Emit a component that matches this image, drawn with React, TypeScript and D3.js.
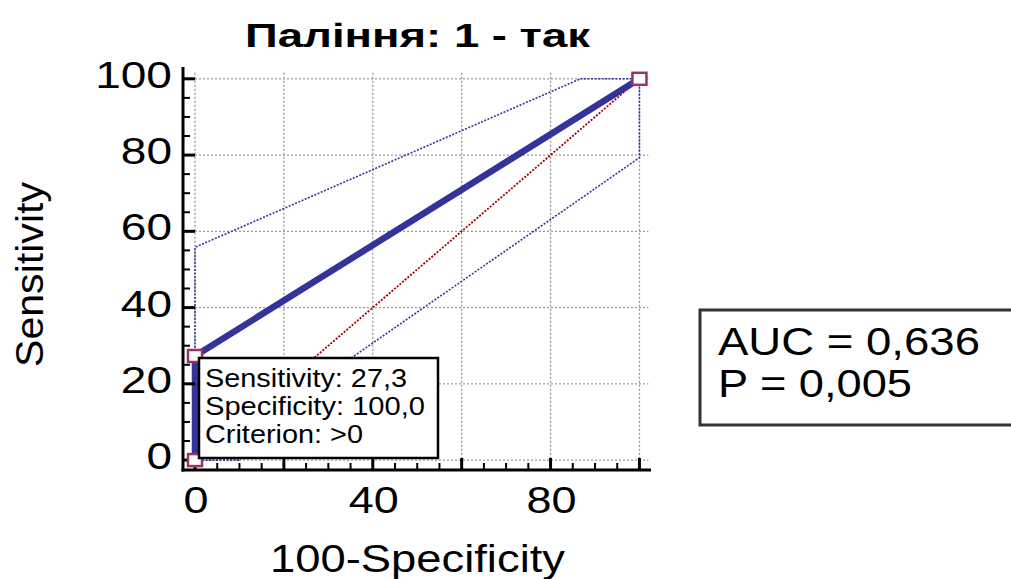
import React from "react";
import * as d3 from "d3";

// ROC curve: (100 - specificity, sensitivity) pairs
const rocX = [0, 0, 100];
const rocY = [0, 27.3, 100];

// 95% confidence bounds around the curve
const upperX = [0, 0, 86.7, 100];
const upperY = [0, 55.8, 100, 100];
const lowerX = [0, 10, 30, 100, 100];
const lowerY = [0, 0, 22.6, 79.3, 100];

// Reference (chance) diagonal
const diagX = [0, 100];
const diagY = [0, 100];

const gridValues = [0, 20, 40, 60, 80, 100];
const yTickLabels = [0, 20, 40, 60, 80, 100];
const xTickLabels = [0, 40, 80];
const minorStep = 5;

const title = "Паління: 1 - так";
const xTitle = "100-Specificity";
const yTitle = "Sensitivity";
const tipLines = ["Sensitivity: 27,3", "Specificity: 100,0", "Criterion: >0"];
const statLines = ["AUC = 0,636", "P = 0,005"];

const FONT = "'Liberation Sans', Arial, sans-serif";
const BLUE = "#333399";
const DARKRED = "#990000";
const MARKER = "#993366";

export default function App() {
  const x = d3.scaleLinear().domain([-2.7, 102.6]).range([183, 651]);
  const y = d3.scaleLinear().domain([-2.6, 103.1]).range([470, 67]);

  const line = (xs: number[], ys: number[]) =>
    d3
      .line<number>()
      .x((_, i) => x(xs[i]))
      .y((_, i) => y(ys[i]))(xs) as string;

  const minorTicks = d3.range(0, 100 + 0.001, minorStep);
  const markerIdx = [0, 1, 2];

  return (
    <svg
      width={1011}
      height={579}
      style={{ position: "absolute", left: 0, top: 0, background: "#fff" }}
      fontFamily={FONT}
    >
      {/* title */}
      <text x={417.5} y={46.5} fontSize={34} fontWeight="bold" textAnchor="middle" textLength={345} lengthAdjust="spacingAndGlyphs">
        {title}
      </text>

      {/* grid */}
      <g stroke="#999" strokeWidth={1.3} strokeDasharray="2,2" fill="none">
        {gridValues.map((v) => (
          <line key={"gv" + v} x1={x(v)} x2={x(v)} y1={y(101.6)} y2={y(-2.6)} />
        ))}
        {gridValues.map((v) => (
          <line key={"gh" + v} x1={x(0)} x2={x(102)} y1={y(v)} y2={y(v)} />
        ))}
      </g>

      {/* chance diagonal */}
      <path d={line(diagX, diagY)} fill="none" stroke={DARKRED} strokeWidth={1.8} strokeDasharray="2,1.5" />

      {/* confidence bounds */}
      <path d={line(upperX, upperY)} fill="none" stroke={BLUE} strokeWidth={1.6} strokeDasharray="2,1.5" />
      <path d={line(lowerX, lowerY)} fill="none" stroke={BLUE} strokeWidth={1.6} strokeDasharray="2,1.5" />

      {/* ROC curve */}
      <path d={line(rocX, rocY)} fill="none" stroke={BLUE} strokeWidth={6.5} strokeLinejoin="round" />

      {/* axes */}
      <g stroke="#000">
        <line x1={x(-2.7)} x2={x(-2.7)} y1={y(103.1)} y2={y(-2.6) + 1.5} strokeWidth={3} />
        <line x1={x(-2.7) - 1.5} x2={x(102.6)} y1={y(-2.6)} y2={y(-2.6)} strokeWidth={3} />
        {minorTicks.map((v) => {
          const major = v % 20 === 0;
          const len = major ? 12 : 7;
          return (
            <g key={"t" + v} strokeWidth={major ? 3 : 2}>
              <line x1={x(-2.7)} x2={x(-2.7) + len} y1={y(v)} y2={y(v)} />
              <line x1={x(v)} x2={x(v)} y1={y(-2.6)} y2={y(-2.6) - len} />
            </g>
          );
        })}
      </g>

      {/* tick labels */}
      <g fontSize={36} fill="#000">
        {yTickLabels.map((v) => {
          const s = String(v);
          return (
            <text key={"yl" + v} x={172} y={y(v) + 9} textAnchor="end" textLength={s.length * 25.6} lengthAdjust="spacingAndGlyphs">
              {s}
            </text>
          );
        })}
        {xTickLabels.map((v) => {
          const s = String(v);
          return (
            <text key={"xl" + v} x={x(v) + 1} y={513} textAnchor="middle" textLength={s.length * 25} lengthAdjust="spacingAndGlyphs">
              {s}
            </text>
          );
        })}
      </g>

      {/* axis titles */}
      <text x={417.5} y={572} fontSize={39} textAnchor="middle" textLength={295} lengthAdjust="spacingAndGlyphs">
        {xTitle}
      </text>
      <text
        transform={`translate(43, 274.5) rotate(-90)`}
        fontSize={39}
        textAnchor="middle"
        textLength={185}
        lengthAdjust="spacingAndGlyphs"
      >
        {yTitle}
      </text>

      {/* criterion markers */}
      {markerIdx.map((i) => (
        <rect
          key={"m" + i}
          x={x(rocX[i]) - 7}
          y={y(rocY[i]) - 6}
          width={14}
          height={12}
          fill="#fff"
          stroke={MARKER}
          strokeWidth={2.5}
        />
      ))}

      {/* selected criterion info box */}
      <rect x={199} y={358} width={239} height={100} fill="#fff" stroke="#000" strokeWidth={2.5} />
      <g fontSize={25} fill="#000">
        {tipLines.map((t, i) => (
          <text key={"tip" + i} x={205} y={387 + i * 28} textLength={[202, 220, 158][i]} lengthAdjust="spacingAndGlyphs">
            {t}
          </text>
        ))}
      </g>

      {/* AUC summary box */}
      <rect x={700} y={310} width={320} height={115} fill="#fff" stroke="#333" strokeWidth={3} />
      <g fontSize={39} fill="#000">
        {statLines.map((t, i) => (
          <text key={"st" + i} x={718} y={355 + i * 42} textLength={[262, 194][i]} lengthAdjust="spacingAndGlyphs">
            {t}
          </text>
        ))}
      </g>
    </svg>
  );
}
